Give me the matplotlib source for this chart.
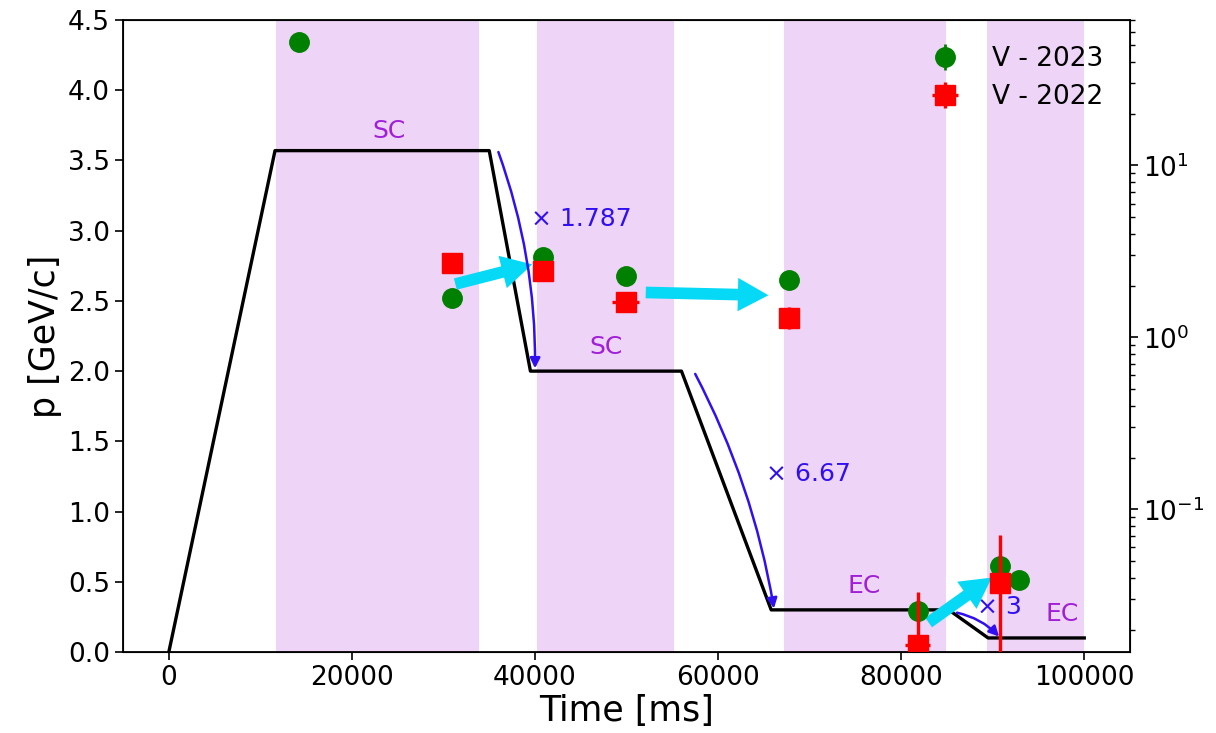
import matplotlib
matplotlib.use("Agg")
import matplotlib.pyplot as plt

# ---- data ----
cycle_t = [0, 11600, 35000, 39500, 56000, 65800, 85200, 89500, 100000]
cycle_p = [0.0, 3.57, 3.57, 2.0, 2.0, 0.3, 0.3, 0.1, 0.1]

spans = [(11700, 33900), (40200, 55200), (67200, 84900), (89400, 100000)]

t_2023 = [14200, 30900, 40900, 49900, 67800, 81800, 90800, 92900]
p_2023 = [4.34, 2.52, 2.81, 2.68, 2.65, 0.29, 0.61, 0.51]
perr_2023 = [0.01, 0.01, 0.01, 0.01, 0.05, 0.01, 0.02, 0.01]

t_2022 = [30900, 40900, 49900, 67800, 81800, 90800]
p_2022 = [2.77, 2.71, 2.49, 2.38, 0.05, 0.49]
terr_2022 = [200, 200, 1500, 200, 1400, 200]
perr_lo_2022 = [0.02, 0.02, 0.06, 0.08, 0.38, 0.55]
perr_hi_2022 = [0.02, 0.02, 0.06, 0.08, 0.38, 0.34]

labels_mode = ["SC", "SC", "EC", "EC"]
labels_mode_xy = [(24000, 3.71), (47800, 2.17), (75900, 0.47), (97600, 0.27)]

factor_text = ["\u00d7 1.787", "\u00d7 6.67", "\u00d7 3"]
factor_xy = [(39600, 3.08), (65200, 1.27), (88300, 0.32)]
factor_arrows = [((36000, 3.56), (40000, 2.02), -0.09),
                 ((57500, 1.98), (66100, 0.31), -0.08),
                 ((86100, 0.28), (90700, 0.11), -0.15)]

shift_arrows = [((31300, 2.62), (39700, 2.76)),
                ((52100, 2.56), (65500, 2.54)),
                ((83000, 0.21), (89900, 0.53))]

# ---- figure ----
fig = plt.figure(figsize=(12.16, 7.33), dpi=100)
ax = fig.add_axes([0.1012, 0.1105, 0.8281, 0.8622])

for a, b in spans:
    ax.axvspan(a, b, color="#eed4f6", lw=0, zorder=0)

ax.plot(cycle_t, cycle_p, color="black", lw=2.4, zorder=2)

for (s, e) in shift_arrows:
    ax.annotate("", xy=e, xytext=s,
                arrowprops=dict(arrowstyle="simple,head_width=1.2,head_length=1.1,tail_width=0.42",
                                mutation_scale=20, color="#05d9f5", lw=0,
                                shrinkA=0, shrinkB=0), zorder=3)

for (s, e, r) in factor_arrows:
    ax.annotate("", xy=e, xytext=s,
                arrowprops=dict(arrowstyle="-|>", color="#3010f0", lw=1.8,
                                mutation_scale=15,
                                connectionstyle=f"arc3,rad={r}",
                                shrinkA=0, shrinkB=0), zorder=3)

for txt, (x, y) in zip(factor_text, factor_xy):
    ax.text(x, y, txt, color="#3010f0", fontsize=18, ha="left", va="center", zorder=4)

for txt, (x, y) in zip(labels_mode, labels_mode_xy):
    ax.text(x, y, txt, color="#a020d8", fontsize=18, ha="center", va="center", zorder=4)

ax.errorbar(t_2023, p_2023, yerr=perr_2023, fmt="o", color="green", ms=14,
            elinewidth=2, capsize=0, label="V - 2023", zorder=5)
ax.errorbar(t_2022, p_2022, xerr=terr_2022, yerr=[perr_lo_2022, perr_hi_2022],
            fmt="s", color="red", ms=14,
            elinewidth=2.4, capsize=0, label="V - 2022", zorder=6)

ax.set_xlim(-5000, 105000)
ax.set_ylim(0, 4.5)
ax.set_xlabel("Time [ms]", fontsize=25, labelpad=2)
ax.set_ylabel("p [GeV/c]", fontsize=25)
ax.tick_params(labelsize=19, width=1.2, length=6)
for sp in ax.spines.values():
    sp.set_linewidth(1.3)

ax.legend(loc="upper right", frameon=False, fontsize=19, handletextpad=0.8,
          borderaxespad=0.6, labelspacing=0.45)

ax2 = ax.twinx()
ax2.set_yscale("log")
ax2.set_ylim(0.0148, 70)
ax2.tick_params(labelsize=19, width=1.2, length=6)
ax2.tick_params(which="minor", width=1.0, length=3.5)

fig.savefig("out.png", dpi=100)
